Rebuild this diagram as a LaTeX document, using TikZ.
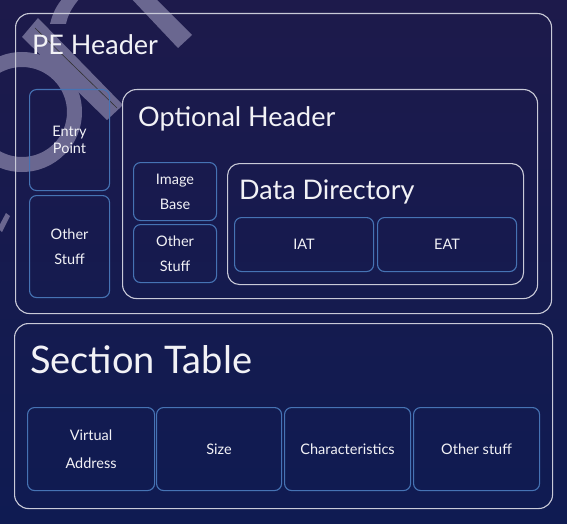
\documentclass[tikz,border=0pt]{standalone}
\usepackage{fontspec}
\setmainfont{Lato}
\definecolor{bgtop}{HTML}{1D1A4B}
\definecolor{bgbot}{HTML}{0F1B52}
\definecolor{linec}{HTML}{C9CAD8}
\definecolor{cellc}{HTML}{4673B4}
\definecolor{txtc}{HTML}{F2F2F6}
\definecolor{wmc}{HTML}{6A6790}
\begin{document}
\begin{tikzpicture}[x=1pt,y=-1pt,
  outer/.style={draw=linec, line width=1.1pt, rounded corners=14pt, anchor=north west, inner sep=0pt},
  cell/.style={draw=cellc, line width=1.1pt, rounded corners=7pt, anchor=north west, inner sep=0pt,
    text=txtc, align=center},
  small/.style={font=\fontsize{14.5}{25}\selectfont},
  title/.style={anchor=base west, text=txtc, inner sep=0pt, font=\fontsize{27}{30}\selectfont}]
\useasboundingbox (0,0) rectangle (567,524);
\shade[top color=bgtop, bottom color=bgbot] (0,0) rectangle (567,524);
% faint watermark
\fill[wmc, even odd rule] (22,112) circle[radius=60pt] (22,112) circle[radius=45pt];
\fill[wmc] (63,-2) -- (80,-2) .. controls (73,6) and (68,14) .. (66,24) -- (50,24) .. controls (53,12) and (57,5) .. (63,-2) -- cycle;
\fill[wmc] (22,37) -- (38,18) -- (123,105) -- (107,120) -- cycle;
\draw[black!80, line width=0.6pt] (35,28) -- (117,108);
\fill[wmc] (128,-5) -- (152,-5) -- (192,35) -- (178,48) -- cycle;
\fill[wmc] (-2,228) -- (6,213) -- (10,216) -- (2,232) -- cycle;
% PE header
\node[outer, minimum width=536pt, minimum height=300pt] (pe) at (15,13) {};
\node[title] (pet) at (32,55) {PE Header};
\node[cell, minimum width=80pt, minimum height=101pt, font=\fontsize{14.5}{17}\selectfont] (ep) at (29,89) {Entry\\Point};
\node[cell, small, minimum width=80pt, minimum height=102pt] (os1) at (29,195) {Other\\Stuff};
% Optional header
\node[outer, minimum width=415pt, minimum height=209pt] (oh) at (122,89) {};
\node[title] (oht) at (138,127) {Optional Header};
\node[cell, small, minimum width=83pt, minimum height=58pt] (ib) at (133,162) {Image\\Base};
\node[cell, small, minimum width=83pt, minimum height=58pt] (os2) at (133,224) {Other\\Stuff};
% Data directory
\node[outer, rounded corners=12pt, minimum width=296pt, minimum height=121pt] (dd) at (227,163) {};
\node[title] (ddt) at (239,199) {Data Directory};
\node[cell, small, minimum width=139pt, minimum height=54pt] (iat) at (234,217) {IAT};
\node[cell, small, minimum width=139pt, minimum height=54pt] (eat) at (377,217) {EAT};
% Section table
\node[outer, minimum width=538pt, minimum height=185pt] (st) at (14,323) {};
\node[title, font=\fontsize{38}{42}\selectfont] (stt) at (30,373) {Section Table};
\node[cell, minimum width=127pt, minimum height=83pt, font=\fontsize{14.5}{28}\selectfont] (va) at (27,407) {Virtual\\Address};
\node[cell, small, minimum width=125pt, minimum height=83pt] (sz) at (156,407) {Size};
\node[cell, small, minimum width=126pt, minimum height=83pt] (ch) at (284,407) {Characteristics};
\node[cell, small, minimum width=126pt, minimum height=83pt] (ot) at (413,407) {Other stuff};
\end{tikzpicture}
\end{document}
